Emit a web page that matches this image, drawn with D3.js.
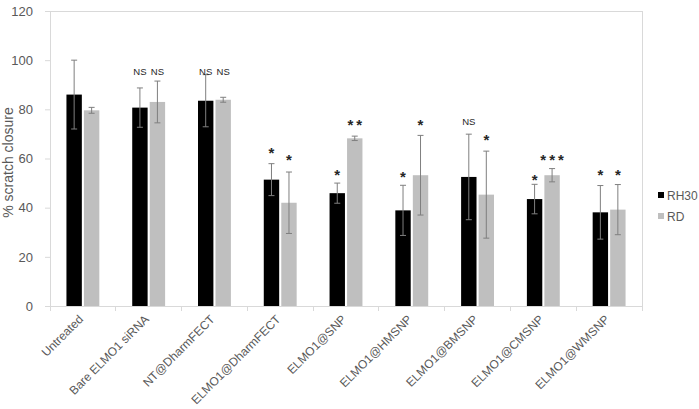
<!DOCTYPE html>
<html>
<head>
<meta charset="utf-8">
<script src="https://cdn.jsdelivr.net/npm/d3@7"></script>
<style>
  body { margin: 0; background: #fff; }
</style>
</head>
<body>
<div id="chart"></div>
<script>
// Data
let categories = ["Untreated", "Bare ELMO1 siRNA", "NT@DharmFECT", "ELMO1@DharmFECT", "ELMO1@SNP",
  "ELMO1@HMSNP", "ELMO1@BMSNP", "ELMO1@CMSNP", "ELMO1@WMSNP"];
let seriesNames = ["RH30", "RD"];
let rh30 = [86.0, 80.7, 83.5, 51.4, 45.9, 38.9, 52.5, 43.5, 38.1];
let rh30Err = [14.0, 8.0, 10.6, 6.5, 4.1, 10.2, 17.4, 6.0, 10.9];
let rd = [79.6, 83.0, 83.9, 42.0, 68.2, 53.2, 45.3, 53.2, 39.2];
let rdErr = [1.2, 8.5, 1.0, 12.5, 0.9, 16.2, 17.7, 2.7, 10.2];
let rh30Sig = ["", "NS", "NS", "*", "*", "*", "NS", "*", "*"];
let rdSig = ["", "NS", "NS", "*", "**", "*", "*", "***", "*"];
// height (in % units) at which each significance mark sits
let rh30SigY = [0, 95.5, 95.5, 63.7, 54.8, 53.9, 75.0, 52.8, 54.8];
let rdSigY = [0, 95.5, 95.5, 60.7, 75.2, 75.0, 69.1, 60.7, 54.8];
let yTicks = [0, 20, 40, 60, 80, 100, 120];

let w = 699;
let h = 409;
let pLeft = 50, pRight = 642, pTop = 11, pBottom = 306;
let colors = { RH30: "#000000", RD: "#bfbfbf" };
let textColor = "#595959";
let font = "'Liberation Sans', Arial, sans-serif";

let rows = categories.map((c, i) => ({
  cat: c,
  bars: [
    { s: "RH30", v: rh30[i], e: rh30Err[i], sig: rh30Sig[i], sigY: rh30SigY[i] },
    { s: "RD", v: rd[i], e: rdErr[i], sig: rdSig[i], sigY: rdSigY[i] },
  ],
}));

let x0 = d3.scaleBand().domain(categories).range([pLeft, pRight]).paddingInner(0.5).paddingOuter(0.25);
let x1 = d3.scaleBand().domain(seriesNames).range([0, x0.bandwidth()]).paddingInner(0.12);
let y = d3.scaleLinear().domain([0, 120]).range([pBottom, pTop]);

let svg = d3.select("#chart").append("svg").attr("width", w).attr("height", h)
  .style("font-family", font);

// plot border
svg.append("rect")
  .attr("x", pLeft).attr("y", pTop)
  .attr("width", pRight - pLeft).attr("height", pBottom - pTop)
  .attr("fill", "none").attr("stroke", "#d9d9d9").attr("stroke-width", 1)
  .attr("shape-rendering", "crispEdges");

// y axis
let yAxis = d3.axisLeft(y).tickValues(yTicks).tickSize(5).tickPadding(12);
let gy = svg.append("g").attr("transform", `translate(${pLeft},0)`).call(yAxis);
gy.select(".domain").attr("stroke", "#d9d9d9");
gy.selectAll(".tick line").attr("stroke", "#d9d9d9");
gy.selectAll(".tick text").attr("fill", textColor).attr("font-size", "13px").attr("font-family", font);

// x axis: ticks at the band boundaries
let step = x0.step();
let boundaries = d3.range(categories.length + 1).map((i) => pLeft + i * step);
let gx = svg.append("g").attr("transform", `translate(0,${pBottom})`);
gx.append("line").attr("x1", pLeft).attr("x2", pRight).attr("stroke", "#d9d9d9")
  .attr("shape-rendering", "crispEdges");
gx.selectAll(".xt").data(boundaries).enter().append("line")
  .attr("x1", (d) => d).attr("x2", (d) => d).attr("y1", 0).attr("y2", 5)
  .attr("stroke", "#d9d9d9").attr("shape-rendering", "crispEdges");
gx.selectAll(".xl").data(categories).enter().append("text")
  .attr("transform", (d) => `translate(${x0(d) + x0.bandwidth() / 2 + 1},${14}) rotate(-45)`)
  .attr("text-anchor", "end")
  .attr("fill", textColor)
  .attr("font-size", "12px")
  .text((d) => d);

// bars
let groups = svg.selectAll(".grp").data(rows).enter().append("g")
  .attr("transform", (d) => `translate(${x0(d.cat)},0)`);

groups.selectAll("rect").data((d) => d.bars).enter().append("rect")
  .attr("x", (d) => x1(d.s))
  .attr("y", (d) => y(d.v))
  .attr("width", x1.bandwidth())
  .attr("height", (d) => y(0) - y(d.v))
  .attr("fill", (d) => colors[d.s]);

// error bars
let eb = groups.selectAll(".err").data((d) => d.bars).enter().append("g")
  .attr("stroke", "#7f7f7f").attr("stroke-width", 1);
eb.append("line")
  .attr("x1", (d) => x1(d.s) + x1.bandwidth() / 2)
  .attr("x2", (d) => x1(d.s) + x1.bandwidth() / 2)
  .attr("y1", (d) => y(d.v + d.e))
  .attr("y2", (d) => y(d.v - d.e));
eb.append("line")
  .attr("x1", (d) => x1(d.s) + x1.bandwidth() / 2 - 3)
  .attr("x2", (d) => x1(d.s) + x1.bandwidth() / 2 + 3)
  .attr("y1", (d) => y(d.v + d.e))
  .attr("y2", (d) => y(d.v + d.e));
eb.append("line")
  .attr("x1", (d) => x1(d.s) + x1.bandwidth() / 2 - 3)
  .attr("x2", (d) => x1(d.s) + x1.bandwidth() / 2 + 3)
  .attr("y1", (d) => y(d.v - d.e))
  .attr("y2", (d) => y(d.v - d.e));

// significance marks
groups.selectAll(".sig").data((d) => d.bars.filter((b) => b.sig !== "")).enter().append("text")
  .attr("x", (d) => x1(d.s) + x1.bandwidth() / 2)
  .attr("y", (d) => y(d.sigY) + (d.sig === "NS" ? 3.5 : 8.5))
  .attr("text-anchor", "middle")
  .attr("fill", "#262626")
  .attr("font-size", (d) => (d.sig === "NS" ? "9.5px" : "15px"))
  .attr("font-weight", (d) => (d.sig === "NS" ? "normal" : "bold"))
  .attr("letter-spacing", (d) => (d.sig === "NS" ? "0px" : "3px"))
  .attr("dx", (d) => (d.sig === "NS" ? 0 : 1.5))
  .text((d) => d.sig);

// y axis title
svg.append("text")
  .attr("transform", `translate(13,${(pTop + pBottom) / 2 + 4}) rotate(-90)`)
  .attr("text-anchor", "middle")
  .attr("fill", textColor)
  .attr("font-size", "14px")
  .text("% scratch closure");

// legend
let legend = svg.selectAll(".leg").data(seriesNames).enter().append("g")
  .attr("transform", (d, i) => `translate(658,${192 + i * 21})`);
legend.append("rect").attr("width", 6).attr("height", 6).attr("fill", (d) => colors[d]);
legend.append("text").attr("x", 9).attr("y", 7.5)
  .attr("fill", textColor).attr("font-size", "12px").text((d) => d);
</script>
</body>
</html>
